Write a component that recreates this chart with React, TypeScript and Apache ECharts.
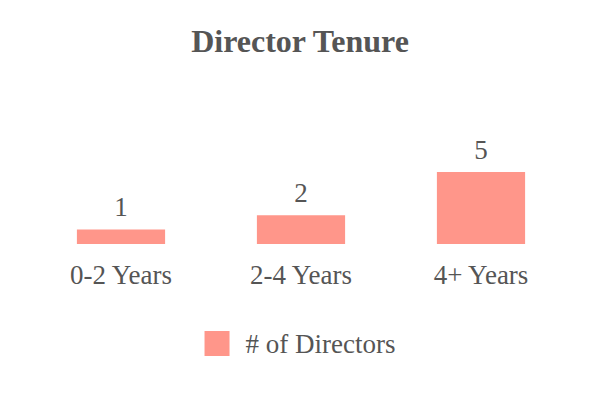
import { useEffect, useRef } from 'react';
import * as echarts from 'echarts';

const categories = ['0-2 Years', '2-4 Years', '4+ Years'];
const directors = [1, 2, 5];
const seriesName = '# of Directors';

const textColor = '#555555';
const barColor = '#ff968a';
const serif = '"Liberation Serif", "Times New Roman", serif';

export default function App() {
    const chartRef = useRef<HTMLDivElement>(null);

    useEffect(() => {
        document.body.style.margin = '0';
        if (!chartRef.current) return;
        const chart = echarts.init(chartRef.current, undefined, { renderer: 'svg' });

        chart.setOption({
            animation: false,
            textStyle: { fontFamily: serif },
            title: {
                text: 'Director Tenure',
                left: 'center',
                top: 20,
                textStyle: { fontFamily: serif, fontSize: 32, fontWeight: 'bold', color: textColor },
            },
            legend: {
                data: [seriesName],
                left: 'center',
                top: 325,
                icon: 'rect',
                itemWidth: 25,
                itemHeight: 25,
                itemGap: 10,
                textStyle: {
                    fontFamily: serif,
                    fontSize: 27,
                    color: textColor,
                    padding: [0, 0, 0, 11],
                },
            },
            grid: { left: 31, right: 29, top: 172, bottom: 156 },
            xAxis: {
                type: 'category',
                data: categories,
                axisLine: { show: false },
                axisTick: { show: false },
                axisLabel: { fontFamily: serif, fontSize: 27, color: textColor, margin: 17 },
            },
            yAxis: {
                type: 'value',
                min: 0,
                max: 5,
                show: false,
                splitLine: { show: false },
            },
            series: [
                {
                    name: seriesName,
                    type: 'bar',
                    data: directors,
                    barWidth: '49%',
                    itemStyle: { color: barColor },
                    label: {
                        show: true,
                        position: 'top',
                        distance: 9,
                        fontFamily: serif,
                        fontSize: 27,
                        color: textColor,
                    },
                },
            ],
        });

        return () => {
            chart.dispose();
        };
    }, []);

    return <div ref={chartRef} style={{ width: 600, height: 400 }} />;
}
